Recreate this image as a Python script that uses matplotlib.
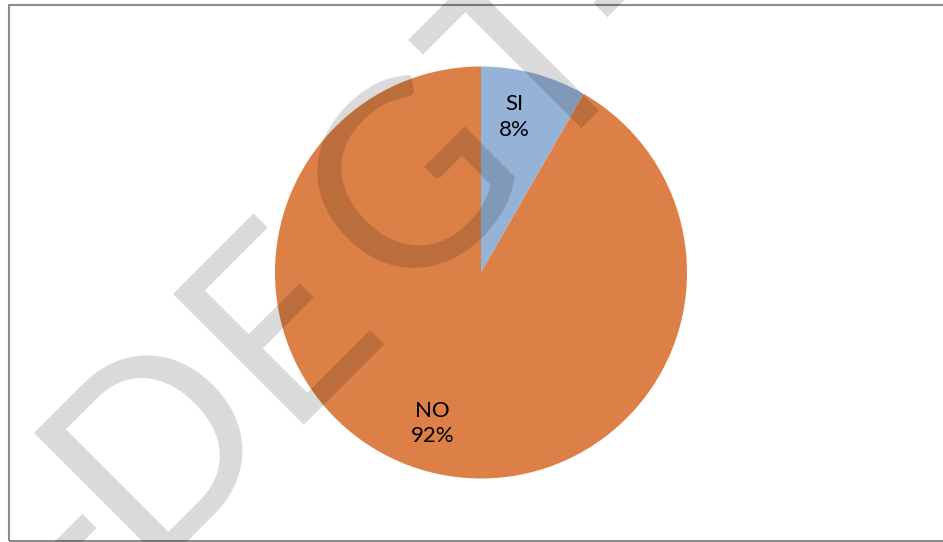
import matplotlib
matplotlib.use("Agg")
import matplotlib.pyplot as plt
from matplotlib.patches import Rectangle

# data
categories = ["SI", "NO"]
shares = [8.3, 91.7]
colors = ["#95b3d7", "#dd8047"]

# watermark letters and where their centres sit along the diagonal (px)
mark_letters = ["-", "D", "E", "G", "T", "-"]
mark_centres = [-60, 72, 244, 436, 606, 727]

W, H = 943, 542
fig = plt.figure(figsize=(W / 100, H / 100), dpi=100)
fig.patch.set_facecolor("white")

# pie centre ~ (481, 272) px, radius ~206 px
cx, cy, r = 481, 272.5, 206
ax = fig.add_axes([(cx - r) / W, (H - cy - r) / H, 2 * r / W, 2 * r / H])
wedges, texts, autotexts = ax.pie(
    shares, colors=colors, startangle=90, counterclock=False,
    autopct="%.0f%%", pctdistance=0.77,
    wedgeprops=dict(linewidth=0),
    textprops=dict(fontsize=16, family=["Lato", "DejaVu Sans"], color="black"),
)
for t, cat in zip(autotexts, categories):
    t.set_text(cat + "\n" + t.get_text())
    t.set_linespacing(1.35)
    t.set_ha("center")
    t.set_va("center")
    x, y = t.get_position()
    t.set_position((x - 0.036, y + 0.01))
ax.set_xlim(-1, 1)
ax.set_ylim(-1, 1)
ax.set_aspect("auto")
ax.axis("off")

# chart frame
fig.patches.append(Rectangle((8.5 / W, 1 / H), 2.0, (541 - 4.5) / H,
                             transform=fig.transFigure, fill=False,
                             edgecolor="#8c8c8c", linewidth=1.5, zorder=0))

# diagonal watermark, letter by letter along a 45 degree baseline
ox, oy, base = 35, 420, 177
for ch, s in zip(mark_letters, mark_centres):
    px = ox + (s + base) / 2 ** 0.5
    py = oy + (base - s) / 2 ** 0.5
    fig.text(px / W, 1 - py / H, ch, rotation=45, rotation_mode="anchor",
             ha="center", va="baseline", fontsize=186,
             family=["Lato", "DejaVu Sans"], color="black", alpha=0.15,
             zorder=10)

fig.savefig("out.png", dpi=100)
